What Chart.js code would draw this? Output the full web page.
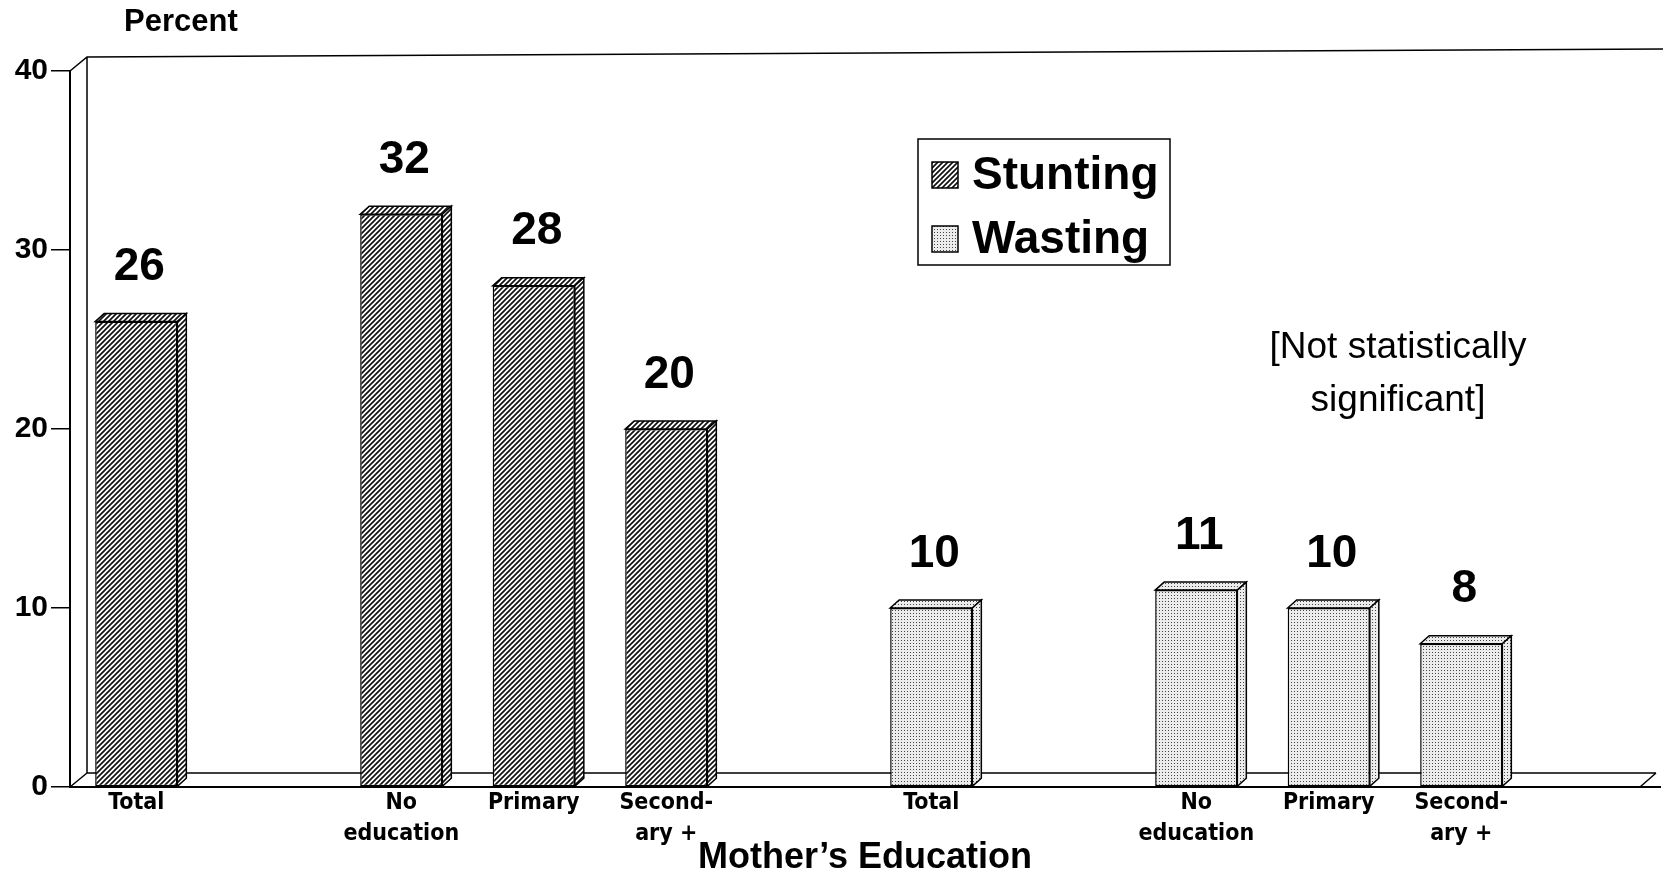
<!DOCTYPE html>
<html>
<head>
<meta charset="utf-8">
<title>Stunting and wasting by mother's education</title>
<script src="https://cdn.jsdelivr.net/npm/chart.js@4.4.1/dist/chart.umd.min.js"></script>
<style>
  body { margin: 0; background: #fff; }
  canvas { display: block; }
</style>
</head>
<body>
<canvas id="barChart" width="1663" height="876"></canvas>
<script>
// Datos del gráfico (huecos vacíos separan los grupos)
var categories = [['Total'], '', ['No', 'education'], ['Primary'], ['Second-', 'ary +'], '',
                  ['Total'], '', ['No', 'education'], ['Primary'], ['Second-', 'ary +'], ''];
var stunting = [26, null, 32, 28, 20, null, null, null, null, null, null, null];
var wasting  = [null, null, null, null, null, null, 10, null, 11, 10, 8, null];
var yTicks = [0, 10, 20, 30, 40];
var seriesNames = ['Stunting', 'Wasting'];
var yTitle = 'Percent';
var xTitle = 'Mother\u2019s Education';
var note = ['[Not statistically', 'significant]'];

var SANS = '"Liberation Sans", Arial, sans-serif';
var NARROW = '"Liberation Sans Narrow", "Arial Narrow", "DejaVu Sans Condensed", sans-serif';

//Tramas de relleno
function hatchPattern() {
  var c = document.createElement('canvas');
  c.width = 5; c.height = 5;
  var g = c.getContext('2d');
  g.fillStyle = '#fff';
  g.fillRect(0, 0, 5, 5);
  g.strokeStyle = '#111';
  g.lineWidth = 1.7;
  g.beginPath();
  g.moveTo(0, 5); g.lineTo(5, 0);
  g.moveTo(-1, 1); g.lineTo(1, -1);
  g.moveTo(4, 6); g.lineTo(6, 4);
  g.stroke();
  return g.createPattern(c, 'repeat');
}

function dotPattern() {
  var c = document.createElement('canvas');
  c.width = 3; c.height = 3;
  var g = c.getContext('2d');
  g.fillStyle = '#ececec';
  g.fillRect(0, 0, 3, 3);
  g.fillStyle = '#444';
  g.fillRect(1, 1, 1, 1);
  return g.createPattern(c, 'repeat');
}

var DX = 9, DY = -8;     // profundidad de las barras
var WX = 17, WY = -14;   // profundidad de la pared

//Efecto 3D, etiquetas y leyenda
var decor = {
  id: 'decor',
  beforeDatasetsDraw: function(chart) {
    var ctx = chart.ctx, a = chart.chartArea;
    ctx.save();
    ctx.strokeStyle = '#000';
    ctx.lineWidth = 1.5;
    ctx.beginPath();
    ctx.moveTo(a.left, a.top); ctx.lineTo(a.left + WX, a.top + WY);
    ctx.lineTo(chart.width, a.top + WY - 8);
    ctx.moveTo(a.left + WX, a.top + WY); ctx.lineTo(a.left + WX, a.bottom + WY);
    ctx.lineTo(a.right - 4, a.bottom + WY);
    ctx.moveTo(a.left, a.bottom); ctx.lineTo(a.left + WX, a.bottom + WY);
    ctx.moveTo(a.right - 20, a.bottom); ctx.lineTo(a.right - 4, a.bottom + WY);
    ctx.stroke();
    ctx.restore();
  },
  afterDatasetsDraw: function(chart) {
    var ctx = chart.ctx;
    chart.data.datasets.forEach(function(ds, i) {
      var meta = chart.getDatasetMeta(i);
      meta.data.forEach(function(bar, j) {
        if (ds.data[j] == null) return;
        var p = bar.getProps(['x', 'y', 'base', 'width'], true);
        var l = p.x - p.width / 2, r = p.x + p.width / 2;
        ctx.save();
        ctx.fillStyle = ds.backgroundColor;
        ctx.strokeStyle = '#000';
        ctx.lineWidth = 1.5;
        ctx.beginPath();
        ctx.moveTo(l, p.y); ctx.lineTo(l + DX, p.y + DY);
        ctx.lineTo(r + DX, p.y + DY); ctx.lineTo(r, p.y);
        ctx.closePath(); ctx.fill(); ctx.stroke();
        ctx.beginPath();
        ctx.moveTo(r, p.y); ctx.lineTo(r + DX, p.y + DY);
        ctx.lineTo(r + DX, p.base + DY); ctx.lineTo(r, p.base);
        ctx.closePath(); ctx.fill(); ctx.stroke();
        ctx.fillStyle = '#000';
        ctx.font = 'bold 46px ' + SANS;
        ctx.textAlign = 'center';
        ctx.textBaseline = 'middle';
        ctx.fillText(String(ds.data[j]), p.x + 3, p.y - 54);
        ctx.restore();
      });
    });
  },
  afterDraw: function(chart) {
    var ctx = chart.ctx;
    ctx.save();
    ctx.fillStyle = '#000';
    ctx.textBaseline = 'middle';
    ctx.font = 'bold 31px ' + SANS;
    ctx.textAlign = 'left';
    ctx.fillText(yTitle, 124, 22);

    //Leyenda
    ctx.strokeStyle = '#000';
    ctx.lineWidth = 1.5;
    ctx.strokeRect(918, 139, 252, 126);
    ctx.font = 'bold 46px ' + SANS;
    chart.data.datasets.forEach(function(ds, i) {
      var y = 162 + i * 64;
      ctx.fillStyle = ds.backgroundColor;
      ctx.fillRect(932, y, 26, 26);
      ctx.strokeRect(932, y, 26, 26);
      ctx.fillStyle = '#000';
      ctx.fillText(ds.label, 972, y + 14);
    });

    //Nota
    ctx.font = '37px ' + SANS;
    ctx.textAlign = 'center';
    note.forEach(function(t, i) {
      ctx.fillText(t, 1398, 348 + i * 53);
    });
    ctx.restore();
  }
};

var ctx = document.getElementById('barChart').getContext('2d');
var myBarChart = new Chart(ctx, {
  type: 'bar',
  data: {
    labels: categories,
    datasets: [{
      label: seriesNames[0],
      data: stunting,
      backgroundColor: hatchPattern(),
      borderColor: '#000',
      borderWidth: 1.5,
      borderSkipped: false
    }, {
      label: seriesNames[1],
      data: wasting,
      backgroundColor: dotPattern(),
      borderColor: '#000',
      borderWidth: 1.5,
      borderSkipped: false
    }]
  },
  options: {
    responsive: false,
    animation: false,
    devicePixelRatio: 1,
    layout: { padding: { top: 71, right: 3, left: 0, bottom: 0 } },
    datasets: { bar: { barPercentage: 0.62, categoryPercentage: 1 } },
    plugins: { legend: { display: false }, tooltip: { enabled: false } },
    scales: {
      x: {
        stacked: true,
        grid: { display: false, drawTicks: false },
        border: { display: true, color: '#000', width: 2 },
        ticks: {
          autoSkip: false, maxRotation: 0, padding: 1, color: '#000',
          font: { family: NARROW, size: 23, weight: 'bold', lineHeight: '31px' }
        },
        title: {
          display: true, text: xTitle, color: '#000', padding: 0,
          font: { family: SANS, size: 36, weight: 'bold', lineHeight: 1 }
        },
        afterFit: function(scale) { scale.height = 89; }
      },
      y: {
        min: 0, max: 40,
        afterBuildTicks: function(scale) {
          scale.ticks = yTicks.map(function(v) { return { value: v }; });
        },
        grid: { drawOnChartArea: false, drawTicks: true, tickLength: 19, color: '#000', lineWidth: 1.5 },
        border: { display: true, color: '#000', width: 2 },
        ticks: { padding: 3, color: '#000', font: { family: SANS, size: 30, weight: 'bold' } },
        afterFit: function(scale) { scale.width = 70; }
      }
    }
  },
  plugins: [decor]
});
</script>
</body>
</html>
